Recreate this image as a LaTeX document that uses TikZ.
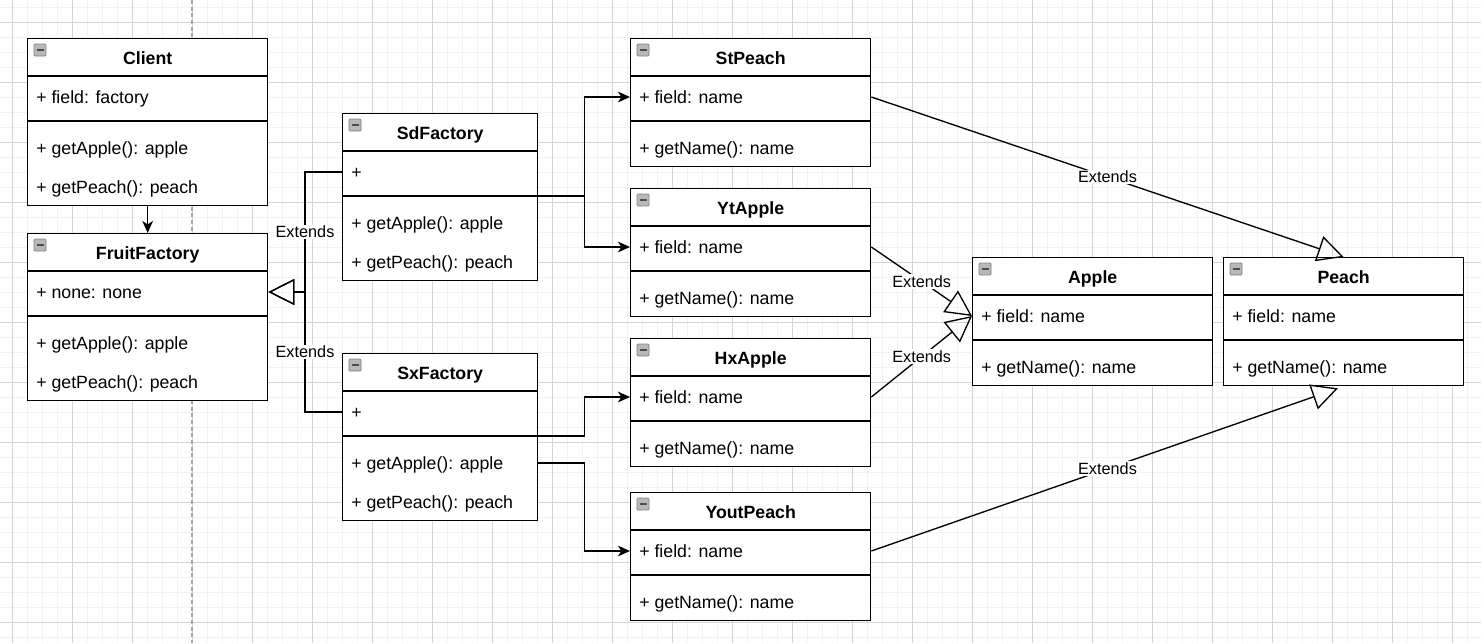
\documentclass[tikz,border=0pt]{standalone}
\usepackage{fontspec}
\setmainfont{Liberation Sans}
\usetikzlibrary{calc,arrows.meta}
\tikzset{
  minorgrid/.style={draw=black!5, line width=0.6pt},
  majorgrid/.style={draw=black!17, line width=0.6pt},
  clsbox/.style={draw=black, fill=white, line width=1pt, anchor=north west, inner sep=0pt},
  clsline/.style={draw=black, line width=1pt},
  txt/.style={inner sep=0pt, font=\fontsize{13.3}{15}\selectfont},
  ttl/.style={inner sep=0pt, font=\fontsize{13.3}{15}\selectfont\bfseries},
  iconbox/.style={draw=black!50, fill=black!28, line width=0.6pt, rounded corners=0.8pt},
  iconbar/.style={draw=black!70, line width=1.3pt},
  lbl/.style={fill=white, inner sep=1pt, font=\fontsize{12.2}{14}\selectfont},
  assoc/.style={draw=black, line width=1pt, -{Stealth[length=9pt, width=8pt, inset=2.5pt]}},
  extends/.style={draw=black, line width=1pt, -{Triangle[open, length=19.5pt, width=19.5pt, line width=1pt]}},
}
\newcommand{\umlclass}[9]{%
  \node[clsbox, minimum width=#4*0.75pt, minimum height=#5*0.75pt] (#1) at (#2,#3) {};
  \draw[clsline] ($(#1.north west)+(0,38)$) -- ($(#1.north east)+(0,38)$);
  \draw[clsline] ($(#1.north west)+(0,83)$) -- ($(#1.north east)+(0,83)$);
  \draw[iconbox] ($(#1.north west)+(7,6)$) rectangle ++(12,12);
  \draw[iconbar] ($(#1.north west)+(9.5,12)$) -- ++(7,0);
  \node[ttl, anchor=base] at ($(#1.north)+(0,26)$) {#6};
  \node[txt, anchor=base west] at ($(#1.north west)+(9,65)$) {#7};
  \node[txt, anchor=base west] at ($(#1.north west)+(9,116)$) {#8};
  \node[txt, anchor=base west] at ($(#1.north west)+(9,155)$) {#9};
  \coordinate (#1-aw) at ($(#1.north west)+(0,59)$);
  \coordinate (#1-ae) at ($(#1.north east)+(0,59)$);
  \coordinate (#1-se) at ($(#1.north east)+(0,83)$);
  \coordinate (#1-me) at ($(#1.north east)+(0,110)$);
}
\begin{document}
\begin{tikzpicture}[x=0.75pt,y=-0.75pt]
\useasboundingbox (0,0) rectangle (1481,643);
\fill[white] (0,0) rectangle (1481,643);
% grid
\foreach \gx in {-3,12,...,1485} \draw[minorgrid] (\gx,0) -- (\gx,643);
\foreach \gy in {7,22,...,645} \draw[minorgrid] (0,\gy) -- (1481,\gy);
\foreach \gx in {12,72,...,1485} \draw[majorgrid] (\gx,0) -- (\gx,643);
\foreach \gy in {22,82,...,645} \draw[majorgrid] (0,\gy) -- (1481,\gy);
\draw[black!35, line width=0.8pt, dash pattern=on 3pt off 2pt] (192,0) -- (192,643);

% classes
\umlclass{client}{27}{38}{240}{167}{Client}{+ field: factory}{+ getApple(): apple}{+ getPeach(): peach}
\umlclass{fruit}{27}{233}{240}{167}{FruitFactory}{+ none: none}{+ getApple(): apple}{+ getPeach(): peach}
\umlclass{sd}{342}{113}{195}{167}{SdFactory}{+}{+ getApple(): apple}{+ getPeach(): peach}
\umlclass{sx}{342}{353}{195}{167}{SxFactory}{+}{+ getApple(): apple}{+ getPeach(): peach}
\umlclass{stpeach}{630}{38}{240}{128}{StPeach}{+ field: name}{+ getName(): name}{}
\umlclass{ytapple}{630}{188}{240}{128}{YtApple}{+ field: name}{+ getName(): name}{}
\umlclass{hxapple}{630}{338}{240}{128}{HxApple}{+ field: name}{+ getName(): name}{}
\umlclass{youtpeach}{630}{492}{240}{128}{YoutPeach}{+ field: name}{+ getName(): name}{}
\umlclass{apple}{972}{257}{240}{128}{Apple}{+ field: name}{+ getName(): name}{}
\umlclass{peach}{1223}{257}{240}{128}{Peach}{+ field: name}{+ getName(): name}{}

% connectors
\draw[assoc] (client.south) -- (fruit.north);
\draw[extends] (sd-aw) -- ++(-37,0) |- (fruit-ae) node[lbl, pos=0.25] {Extends};
\draw[extends] (sx-aw) -- ++(-37,0) |- (fruit-ae) node[lbl, pos=0.25] {Extends};
\draw[assoc] (sd-se) -- ++(46,0) |- (stpeach-aw);
\draw[assoc] (sd-se) -- ++(46,0) |- (ytapple-aw);
\draw[assoc] (sx-se) -- ++(46,0) |- (hxapple-aw);
\draw[assoc] (sx-me) -- ++(46,0) |- (youtpeach-aw);
\draw[extends] (stpeach-ae) -- (peach.north) node[lbl, midway] {Extends};
\draw[extends] (ytapple-ae) -- (apple-aw) node[lbl, midway] {Extends};
\draw[extends] (hxapple-ae) -- (apple-aw) node[lbl, midway] {Extends};
\draw[extends, shorten >=4.5pt] (youtpeach-ae) -- (peach.south) node[lbl, midway] {Extends};
\end{tikzpicture}
\end{document}
